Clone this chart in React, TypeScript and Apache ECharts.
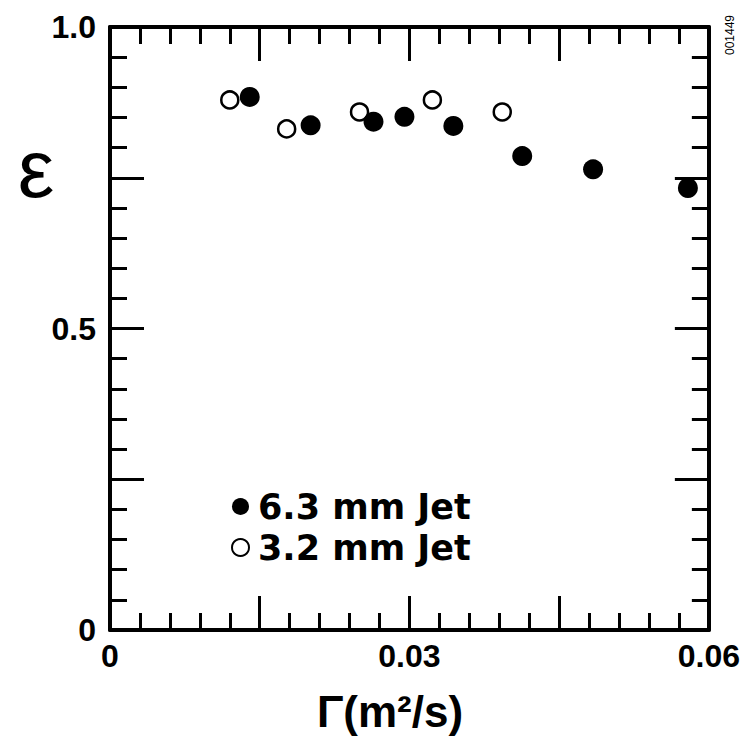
import React, { useEffect, useRef } from "react";
import * as echarts from "echarts";

// Γ (m²/s) and ε values
const jet63Gamma = [0.014, 0.0201, 0.0264, 0.0295, 0.0344, 0.0413, 0.0484, 0.0579];
const jet63Eps = [0.884, 0.837, 0.843, 0.851, 0.836, 0.786, 0.764, 0.733];
const jet32Gamma = [0.012, 0.0177, 0.025, 0.0323, 0.0393];
const jet32Eps = [0.879, 0.831, 0.859, 0.879, 0.859];

const seriesNames = ["6.3 mm Jet", "3.2 mm Jet"];
const xTickValues = [0, 0.03, 0.06];
const xTickLabels = ["0", "0.03", "0.06"];
const yTickValues = [0, 0.5, 1.0];
const yTickLabels = ["0", "0.5", "1.0"];
const xAxisTitle = "Γ(m²/s)";
const yAxisTitle = "ε";
const figureId = "001449";

const pick = (vals: number[], labels: string[]) => (v: number) => {
  const i = vals.findIndex((t) => Math.abs(t - v) < 1e-9);
  return i >= 0 ? labels[i] : "";
};

export default function App() {
  const ref = useRef<HTMLDivElement>(null);
  useEffect(() => {
    if (!ref.current) return;
    const chart = echarts.init(ref.current, null, { renderer: "svg" });
    const lineStyle = { color: "#000", width: 4 };
    const tickStyle = { color: "#000", width: 3 };
    const mkX = (position: "top" | "bottom", labels: boolean) => ({
      type: "value",
      position,
      min: 0,
      max: 0.06,
      interval: 0.015,
      axisLine: { show: true, onZero: false, lineStyle },
      axisTick: { show: true, inside: true, length: 34, lineStyle: tickStyle },
      minorTick: { show: true, splitNumber: 5, length: 17, lineStyle: tickStyle },
      splitLine: { show: false },
      minorSplitLine: { show: false },
      axisLabel: {
        show: labels,
        margin: 10,
        color: "#000",
        fontFamily: "Liberation Sans",
        fontWeight: "bold",
        fontSize: 32,
        formatter: pick(xTickValues, xTickLabels),
      },
    });
    const mkY = (position: "left" | "right", labels: boolean) => ({
      type: "value",
      position,
      min: 0,
      max: 1,
      interval: 0.25,
      axisLine: { show: true, onZero: false, lineStyle },
      axisTick: { show: true, inside: true, length: 34, lineStyle: tickStyle },
      minorTick: { show: true, splitNumber: 5, length: 17, lineStyle: tickStyle },
      splitLine: { show: false },
      minorSplitLine: { show: false },
      axisLabel: {
        show: labels,
        margin: 14,
        color: "#000",
        fontFamily: "Liberation Sans",
        fontWeight: "bold",
        fontSize: 32,
        formatter: pick(yTickValues, yTickLabels),
      },
    });
    chart.setOption({
      animation: false,
      backgroundColor: "#fff",
      grid: { left: 110, right: 27, top: 27, bottom: 108 },
      xAxis: [mkX("bottom", true), mkX("top", false)],
      yAxis: [mkY("left", true), mkY("right", false)],
      legend: {
        orient: "vertical",
        left: 226,
        top: 484,
        itemWidth: 17,
        itemHeight: 17,
        itemGap: 6,
        icon: "circle",
        data: seriesNames,
        textStyle: {
          color: "#000",
          fontFamily: "DejaVu Sans",
          fontWeight: "bold",
          fontSize: 35,
          padding: [0, 0, 0, 4],
        },
      },
      series: [
        {
          name: seriesNames[1],
          type: "scatter",
          symbol: "circle",
          symbolSize: 17,
          itemStyle: { color: "#fff", borderColor: "#000", borderWidth: 2.5, opacity: 1 },
          data: jet32Gamma.map((g, i) => [g, jet32Eps[i]]),
        },
        {
          name: seriesNames[0],
          type: "scatter",
          symbol: "circle",
          symbolSize: 20,
          itemStyle: { color: "#000", opacity: 1 },
          data: jet63Gamma.map((g, i) => [g, jet63Eps[i]]),
        },
      ],
      graphic: [
        {
          type: "text",
          x: 36,
          y: 168,
          style: {
            text: yAxisTitle,
            fill: "#000",
            fontFamily: "Liberation Sans",
            fontSize: 82,
            align: "center",
            verticalAlign: "middle",
          },
        },
        {
          type: "text",
          x: 390,
          y: 711,
          style: {
            text: xAxisTitle,
            fill: "#000",
            fontFamily: "Liberation Sans",
            fontWeight: "bold",
            fontSize: 44,
            align: "center",
            verticalAlign: "middle",
          },
        },
        {
          type: "text",
          x: 730,
          y: 35,
          rotation: Math.PI / 2,
          style: {
            text: figureId,
            fill: "#000",
            fontFamily: "Liberation Sans",
            fontSize: 12,
            align: "center",
            verticalAlign: "middle",
          },
        },
      ],
    });
    return () => chart.dispose();
  }, []);
  return <div ref={ref} style={{ width: 743, height: 738, position: "absolute", left: 0, top: 0 }} />;
}
